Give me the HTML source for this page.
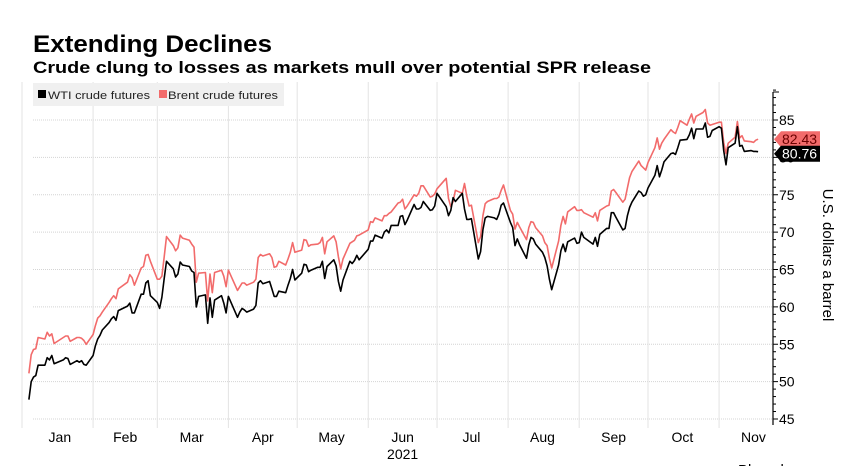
<!DOCTYPE html>
<html><head><meta charset="utf-8"><style>
html,body{margin:0;padding:0;background:#fff;overflow:hidden;width:858px;height:466px}
svg{display:block;font-family:"Liberation Sans","DejaVu Sans",sans-serif}
</style></head><body>
<svg id="chart" width="858" height="466" viewBox="0 0 858 466" xmlns="http://www.w3.org/2000/svg">
<text x="33" y="52" font-size="24" font-weight="bold" fill="#000" textLength="239" lengthAdjust="spacingAndGlyphs">Extending Declines</text>
<text x="33" y="73" font-size="17" font-weight="bold" fill="#000" textLength="618" lengthAdjust="spacingAndGlyphs">Crude clung to losses as markets mull over potential SPR release</text>
<g id="grid"></g>
<g id="axis"></g>
<g id="xaxis"></g>
<g id="series"></g>
<g>
<rect x="33" y="83" width="251" height="23" fill="#f0f0f0"/>
<g><rect x="38" y="90" width="8" height="8" fill="#000"/><text x="48" y="99" font-size="11" fill="#222" textLength="102" lengthAdjust="spacingAndGlyphs">WTI crude futures</text></g>
<g><rect x="159" y="90" width="8" height="8" fill="#f26b6b"/><text x="168" y="99" font-size="11" fill="#222" textLength="110" lengthAdjust="spacingAndGlyphs">Brent crude futures</text></g>
</g>
<text transform="translate(823,255) rotate(90)" text-anchor="middle" font-size="15" fill="#000">U.S. dollars a barrel</text>
<text x="738" y="475" font-size="15" fill="#000">Bloomberg ■</text>
<g id="tags"></g>
</svg>
<script>
const days = [4,5,6,7,8,11,12,13,14,15,19,20,21,22,25,26,27,28,29,
32,33,34,35,36,39,40,41,42,43,47,48,49,50,53,54,55,56,57,
60,61,62,63,64,67,68,69,70,71,74,75,76,77,78,81,82,83,84,85,88,89,90,
91,95,96,97,98,99,102,103,104,105,106,109,110,111,112,113,116,117,118,119,120,
123,124,125,126,127,130,131,132,133,134,137,138,139,140,141,144,145,146,147,148,
152,153,154,155,158,159,160,161,162,165,166,167,168,169,172,173,174,175,176,179,180,181,
182,186,187,188,189,190,193,194,195,196,197,200,201,202,203,204,207,208,209,210,211,
214,215,216,217,218,221,222,223,224,225,228,229,230,231,232,235,236,237,238,239,242,243,
244,245,246,250,251,252,253,256,257,258,259,260,263,264,265,266,267,270,271,272,273,
274,277,278,279,280,281,284,285,286,287,288,291,292,293,294,295,298,299,300,301,302,
305,306,307,308,309,312,313,314,315,316,319,320,321,322];
const wti = [47.6,50.0,50.6,50.8,52.2,52.2,53.2,52.9,53.5,52.4,52.9,53.2,53.1,52.3,52.8,52.6,52.8,52.3,52.2,
53.5,54.8,55.7,56.2,56.9,57.9,58.4,58.7,58.2,59.5,60.1,60.5,59.2,59.2,61.7,61.7,63.2,63.5,61.5,
60.6,59.8,61.3,63.8,66.1,65.1,64.0,64.4,66.0,65.6,65.4,64.8,64.6,60.0,61.4,61.6,57.8,61.2,58.6,60.9,61.5,60.5,59.2,
61.4,58.6,59.3,59.8,59.6,59.3,59.7,60.2,63.2,63.5,63.1,63.4,62.4,61.4,61.4,62.1,61.9,62.9,63.8,65.0,63.6,
64.5,65.7,65.6,64.7,64.9,65.3,65.3,66.1,63.8,65.4,66.3,65.5,63.4,62.1,63.6,66.1,65.8,66.2,66.9,66.3,
67.7,68.8,68.8,69.6,69.2,70.0,70.3,69.9,70.9,70.9,72.1,72.2,71.0,71.6,73.7,73.1,73.1,73.3,74.1,72.9,73.0,73.5,
75.2,73.4,72.2,72.9,74.6,74.1,75.2,73.1,71.7,71.7,71.8,66.4,67.4,70.3,71.9,72.1,71.9,71.7,72.4,73.6,73.9,
71.3,70.6,68.2,69.1,68.3,66.5,68.3,69.3,69.1,68.4,67.3,66.6,65.5,63.7,62.3,65.6,67.5,68.4,67.4,68.7,69.2,68.5,
68.6,70.0,69.3,68.4,69.3,68.1,69.7,70.5,70.5,72.6,72.6,72.0,70.3,70.5,72.2,73.3,74.0,75.5,75.3,74.8,75.0,
75.9,77.6,78.9,77.4,78.3,79.4,80.5,80.6,80.4,81.3,82.3,82.4,83.0,83.9,82.5,83.8,83.8,84.6,82.7,82.8,83.6,
84.1,83.9,80.9,79.0,81.3,81.9,84.1,81.5,81.6,80.8,80.9,80.8,80.8,80.76];
const brent = [51.1,53.6,54.3,54.4,55.9,55.7,56.6,56.1,56.4,55.1,55.9,56.1,56.1,55.4,55.9,55.9,55.8,55.5,55.0,
56.3,57.5,58.5,58.8,59.3,60.6,61.1,61.5,61.1,62.4,63.3,64.3,63.9,62.9,65.2,65.4,66.9,67.0,66.1,
63.7,63.7,64.1,66.7,69.4,68.2,67.5,67.9,69.6,69.2,68.9,68.4,68.0,63.3,64.5,64.6,60.8,64.4,61.9,64.6,64.9,64.1,62.7,
64.9,62.2,62.7,63.2,63.2,62.9,63.3,63.7,66.6,67.0,66.8,67.1,66.6,65.3,65.4,66.1,65.6,66.4,67.3,68.6,67.3,
67.6,69.0,68.9,68.1,68.3,68.4,68.6,69.3,67.1,68.7,69.5,68.7,66.7,65.1,66.4,68.5,68.7,68.9,69.5,69.6,
70.3,71.4,71.3,71.9,71.5,72.2,72.2,72.5,72.7,73.9,74.0,74.4,73.1,73.5,75.0,74.8,75.2,76.2,76.2,74.7,74.8,75.1,
75.8,77.2,74.5,73.4,74.1,75.6,75.2,76.5,74.8,73.5,73.6,68.6,69.4,72.2,73.8,74.1,74.5,74.5,74.7,75.6,76.3,
72.9,72.4,70.4,71.3,70.7,69.0,70.6,71.4,71.3,70.6,69.5,68.6,68.2,66.5,65.2,68.8,70.9,72.1,71.1,72.7,73.4,72.9,
72.9,73.0,72.6,72.0,72.6,71.5,72.9,73.5,73.6,75.5,75.7,75.3,74.0,74.4,75.9,77.3,78.1,79.5,78.9,78.6,78.3,
79.3,81.3,82.6,81.1,81.9,82.4,83.7,83.4,83.2,84.0,84.9,84.3,85.1,85.8,84.6,85.5,86.0,86.4,84.6,84.3,84.4,
84.7,84.7,82.0,80.5,81.9,82.7,84.8,82.6,82.9,82.2,82.1,82.0,82.3,82.43];
const yTicks = [45,50,55,60,65,70,75,80,85];
const months = ["Jan","Feb","Mar","Apr","May","Jun","Jul","Aug","Sep","Oct","Nov"];
const monthStarts = [1,32,60,91,121,152,182,213,244,274,305];

const NS="http://www.w3.org/2000/svg";
function X(d){return 22+(d-1)*2.293;}
function Y(v){return 120+(85-v)*7.475;}
function mk(tag,attrs,parent){const e=document.createElementNS(NS,tag);for(const k in attrs)e.setAttribute(k,attrs[k]);parent.appendChild(e);return e;}
const grid=document.getElementById('grid'),axis=document.getElementById('axis'),xaxis=document.getElementById('xaxis'),series=document.getElementById('series'),tags=document.getElementById('tags');

yTicks.forEach(t=>{
  const l=mk('line',{x1:33,x2:773,y1:Y(t),y2:Y(t),stroke:'#d4d4d4','stroke-width':1,'stroke-dasharray':'1,1'},grid);
  
  
  const tk=mk('line',{x1:773,x2:778,y1:Y(t),y2:Y(t),stroke:'#000'},axis);
  
  
  const tx=mk('text',{x:779,y:Y(t)+5,'font-size':14,fill:'#000'},axis);
  tx.textContent=t;
  
  
});
for(let v=46;v<=89;v++){ if(v%5){const m=mk('line',{x1:773,x2:776,y1:Y(v),y2:Y(v),stroke:'#000'},axis);
  
  }}
const ax=mk('line',{x1:773,x2:773,y1:92,y2:425,stroke:'#000','stroke-width':1.2},axis);


mk('line',{x1:773,x2:779,y1:92,y2:92,stroke:'#000'},axis);

monthStarts.forEach((d,i)=>{
  const g=mk('line',{x1:X(d),x2:X(d),y1:82,y2:428,stroke:'#e3e3e3','stroke-width':1},grid);
  
  
  const next=i<monthStarts.length-1?monthStarts[i+1]:335;
  const start=i===0?days[0]:d;
  const tx=mk('text',{x:X((start+Math.min(next,d+30))/2),y:442,'font-size':14,fill:'#000','text-anchor':'middle'},xaxis);
  tx.textContent=months[i];
  
  
});
const yr=mk('text',{x:X(167),y:459,'font-size':14,fill:'#000','text-anchor':'middle'},xaxis);
yr.textContent='2021';



function path(vals,color,name){
  const d=vals.map((v,i)=>(i?'L':'M')+X(days[i]).toFixed(1)+','+Y(v).toFixed(1)).join('');
  const p=mk('path',{d:d,fill:'none',stroke:color,'stroke-width':1.6,'stroke-linejoin':'round'},series);
  
  
}
path(brent,'#f26b6b','brent-line');
path(wti,'#000','wti-line');

function tag(v,color,name,yo){
  const y=Y(v)+yo;
  const g=mk('g',{},tags);
  
  
  mk('path',{d:`M774,${y} L781,${y-8} L820,${y-8} L820,${y+8} L781,${y+8} Z`,fill:color},g);
  const t=mk('text',{x:782,y:y+5,'font-size':14,fill:color==='#000'?'#fff':'#6b0000'},g);
  t.textContent=v.toFixed(2);
}
tag(brent[brent.length-1],'#f26b6b','brent-last-value-tag',0);
tag(wti[wti.length-1],'#000','wti-last-value-tag',2);
</script>
</body></html>
